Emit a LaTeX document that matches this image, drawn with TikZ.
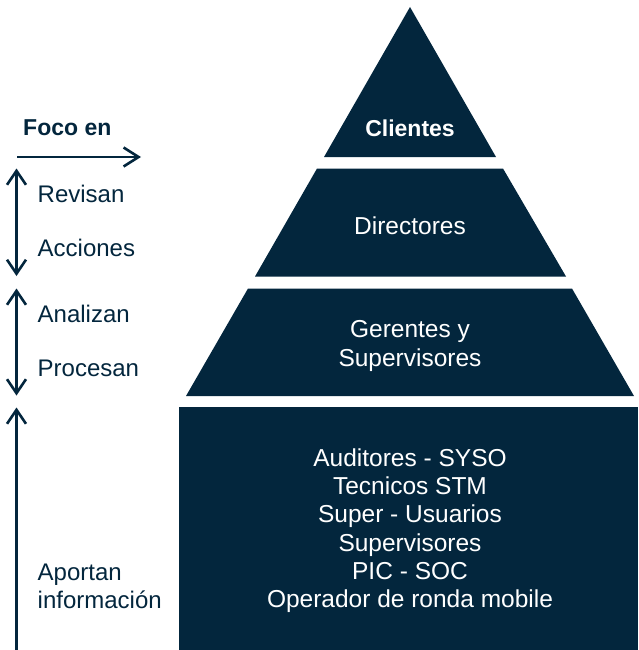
\documentclass[tikz,border=0pt]{standalone}
\usepackage{fontspec}
\setmainfont{Liberation Sans}
\usetikzlibrary{arrows.meta}
\definecolor{navy}{RGB}{3,38,61}
\begin{document}
\begin{tikzpicture}[x=1pt,y=-1pt,
  tier/.style={fill=navy},
  intext/.style={text=white,font=\fontsize{24.5}{28}\selectfont,anchor=base,inner sep=0pt},
  sidetext/.style={text=navy,font=\fontsize{24}{28}\selectfont,anchor=base west,inner sep=0pt},
  flow/.style={draw=navy,line width=2.6pt,{Straight Barb[length=14pt,width=19pt]}-{Straight Barb[length=14pt,width=19pt]}},
  upflow/.style={draw=navy,line width=2.6pt,{Straight Barb[length=14pt,width=19pt]}-},
  rflow/.style={draw=navy,line width=2.6pt,-{Straight Barb[length=15pt,width=19pt]}}]
\useasboundingbox (0,0) rectangle (638,650);
% tiers
\fill[tier] (410,7) -- (496,157) -- (324,157) -- cycle;
\fill[tier] (317,168.5) -- (503,168.5) -- (566,276.5) -- (255,276.5) -- cycle;
\fill[tier] (248,288.5) -- (572,288.5) -- (634,396) -- (186,396) -- cycle;
\fill[tier] (179,407) rectangle (638,650);
% tier texts
\node[intext,font=\bfseries\fontsize{23}{28}\selectfont] (cli) at (410,136.5) {Clientes};
\node[intext] (dir) at (410,234) {Directores};
\node[intext] (ger1) at (410,337) {Gerentes y};
\node[intext] (ger2) at (410,366) {Supervisores};
\node[intext] (b1) at (410,466) {Auditores - SYSO};
\node[intext] (b2) at (410,494.5) {Tecnicos STM};
\node[intext] (b3) at (410,522.5) {Super - Usuarios};
\node[intext] (b4) at (410,551) {Supervisores};
\node[intext] (b5) at (410,579) {PIC - SOC};
\node[intext] (b6) at (410,607) {Operador de ronda mobile};
% side texts
\node[sidetext,font=\bfseries\fontsize{23}{28}\selectfont] (foco) at (23,135.5) {Foco en};
\node[sidetext] (rev) at (37.5,202.5) {Revisan};
\node[sidetext] (acc) at (37.5,256.5) {Acciones};
\node[sidetext] (ana) at (37.5,322.5) {Analizan};
\node[sidetext] (pro) at (37.5,376.5) {Procesan};
\node[sidetext] (apo) at (37.5,580) {Aportan};
\node[sidetext] (inf) at (37.5,608) {información};
% arrows
\coordinate (h1) at (17,157);
\coordinate (h2) at (141,157);
\coordinate (a1t) at (16.5,168.5);
\coordinate (a1b) at (16.5,276);
\coordinate (a2t) at (16.5,288.5);
\coordinate (a2b) at (16.5,395.5);
\coordinate (a3t) at (16.5,407.5);
\coordinate (a3b) at (16.5,650);
\draw[rflow] (h1) -- (h2);
\draw[flow] (a1t) -- (a1b);
\draw[flow] (a2t) -- (a2b);
\draw[upflow] (a3t) -- (a3b);
\end{tikzpicture}
\end{document}
